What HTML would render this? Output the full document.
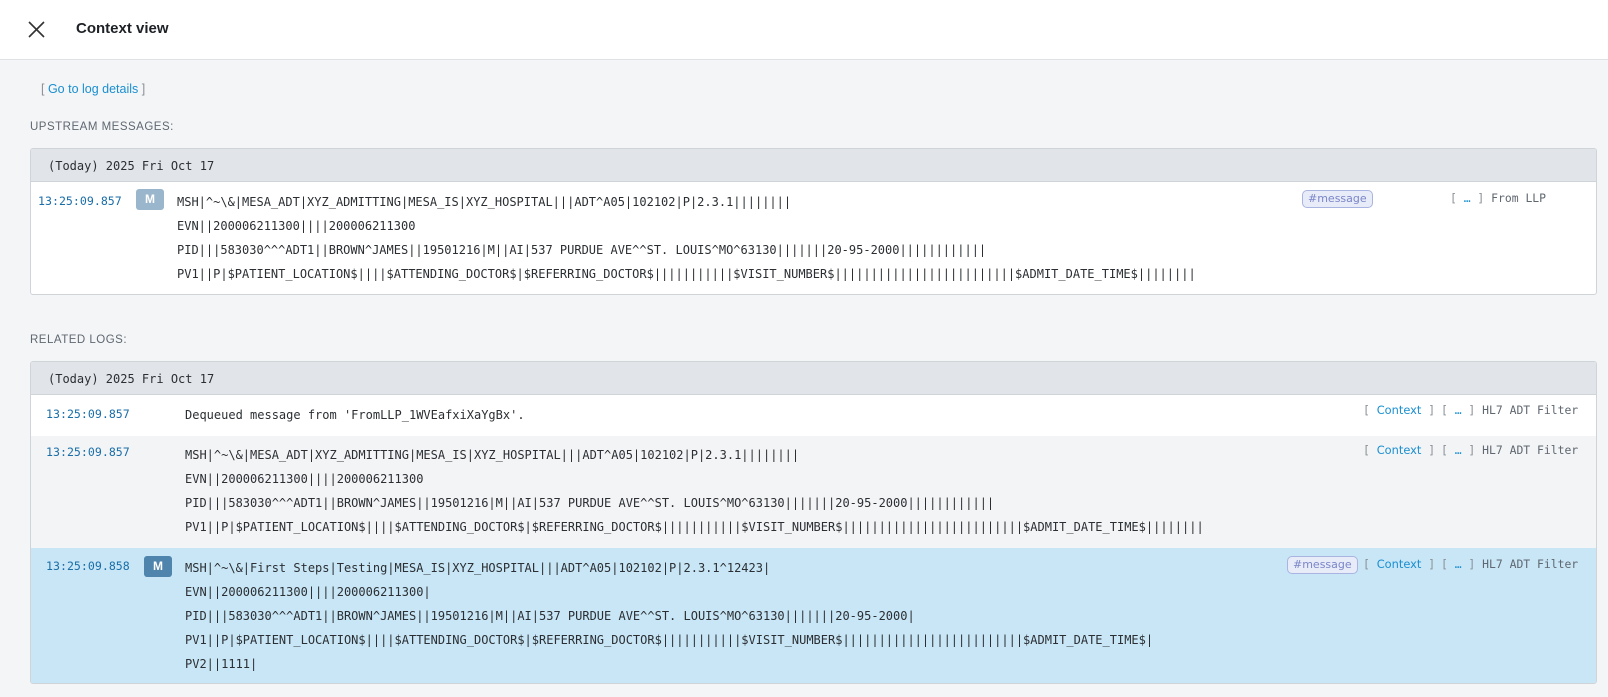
<!DOCTYPE html>
<html><head><meta charset="utf-8"><style>
*{margin:0;padding:0;box-sizing:border-box}
body{width:1608px;height:697px;background:#f4f5f7;font-family:"Liberation Sans",sans-serif;position:relative;overflow:hidden}
.hdr{position:absolute;left:0;top:0;width:1608px;height:60px;background:#fff;border-bottom:1px solid #dfe2e6}
.a{position:absolute;white-space:pre}
.m{font-family:"DejaVu Sans Mono","Liberation Mono",monospace;font-size:12px;color:#2b2f33;line-height:24px}
.r{font-family:"DejaVu Sans Mono","Liberation Mono",monospace;font-size:11.4px;color:#5f6770;line-height:24px}
.t{font-family:"DejaVu Sans Mono","Liberation Mono",monospace;font-size:11.6px;color:#1a6ea8;line-height:24px}
.g{color:#8a9096}
.b{color:#1a8fd0}
.c{font-family:"DejaVu Sans",sans-serif;font-size:11.4px;color:#1a8fd0}
.panel{position:absolute;left:30px;width:1567px;border:1px solid #cfd4d9;border-radius:3px;overflow:hidden}
.ph{position:absolute;left:0;top:0;width:100%;height:33px;background:#e1e5e9;border-bottom:1px solid #cfd4d9}
.lbl{font-size:11.5px;color:#5f6770;letter-spacing:0.5px}
.badge{position:absolute;width:28px;height:21px;border-radius:3px;color:#fff;font-size:12px;font-weight:bold;text-align:center;line-height:21px}
.tag{position:absolute;height:18px;border:1px solid #a9b4e0;border-radius:5px;background:#e8ebf8;color:#7a86c8;font-size:11px;font-family:"DejaVu Sans",sans-serif;line-height:16px;padding:0 5px}
</style></head><body>
<div class="hdr">
<svg style="position:absolute;left:28px;top:21px" width="17" height="17"><path d="M1 1L16 16M16 1L1 16" stroke="#333" stroke-width="1.6"/></svg>
<div class="a" style="left:76px;top:20px;font-size:15px;font-weight:bold;color:#1d2125">Context view</div>
</div>
<div class="a" style="left:41px;top:82px;font-size:12.5px"><span class="g">[ </span><span style="color:#1a8fd0">Go to log details</span><span class="g"> ]</span></div>
<div class="a lbl" style="left:30px;top:121px">UPSTREAM MESSAGES:</div>

<div class="panel" style="top:148px;height:147px;background:#fff">
<div class="ph"></div>
<div class="a m" style="left:17px;top:5px">(Today) 2025 Fri Oct 17</div>
<div class="a t" style="left:7px;top:40px">13:25:09.857</div>
<div class="badge" style="left:105px;top:40px;background:#9ab6cd">M</div>
<div class="a m" style="left:146px;top:41px">MSH|^~\&amp;|MESA_ADT|XYZ_ADMITTING|MESA_IS|XYZ_HOSPITAL|||ADT^A05|102102|P|2.3.1||||||||
EVN||200006211300||||200006211300
PID|||583030^^^ADT1||BROWN^JAMES||19501216|M||AI|537 PURDUE AVE^^ST. LOUIS^MO^63130|||||||20-95-2000||||||||||||
PV1||P|$PATIENT_LOCATION$||||$ATTENDING_DOCTOR$|$REFERRING_DOCTOR$|||||||||||$VISIT_NUMBER$|||||||||||||||||||||||||$ADMIT_DATE_TIME$||||||||</div>
<div class="tag" style="left:1271px;top:41px">#message</div>
<div class="a r" style="left:1419px;top:37px"><span class="g">[ </span><span class="b">…</span><span class="g"> ]</span> From LLP</div>
</div>

<div class="a lbl" style="left:30px;top:334px">RELATED LOGS:</div>

<div class="panel" style="top:361px;height:323px;background:#fff">
<div class="ph"></div>
<div class="a m" style="left:17px;top:5px">(Today) 2025 Fri Oct 17</div>
<div style="position:absolute;left:0;top:74px;width:100%;height:112px;background:#f3f4f6"></div>
<div style="position:absolute;left:0;top:186px;width:100%;height:137px;background:#c8e6f6"></div>
<div class="a t" style="left:15px;top:40px">13:25:09.857</div>
<div class="a m" style="left:154px;top:41px">Dequeued message from 'FromLLP_1WVEafxiXaYgBx'.</div>
<div class="a t" style="left:15px;top:78px">13:25:09.857</div>
<div class="a m" style="left:154px;top:81px">MSH|^~\&amp;|MESA_ADT|XYZ_ADMITTING|MESA_IS|XYZ_HOSPITAL|||ADT^A05|102102|P|2.3.1||||||||
EVN||200006211300||||200006211300
PID|||583030^^^ADT1||BROWN^JAMES||19501216|M||AI|537 PURDUE AVE^^ST. LOUIS^MO^63130|||||||20-95-2000||||||||||||
PV1||P|$PATIENT_LOCATION$||||$ATTENDING_DOCTOR$|$REFERRING_DOCTOR$|||||||||||$VISIT_NUMBER$|||||||||||||||||||||||||$ADMIT_DATE_TIME$||||||||</div>
<div class="a t" style="left:15px;top:192px">13:25:09.858</div>
<div class="badge" style="left:113px;top:194px;background:#4f84ad">M</div>
<div class="a m" style="left:154px;top:194px">MSH|^~\&amp;|First Steps|Testing|MESA_IS|XYZ_HOSPITAL|||ADT^A05|102102|P|2.3.1^12423|
EVN||200006211300||||200006211300|
PID|||583030^^^ADT1||BROWN^JAMES||19501216|M||AI|537 PURDUE AVE^^ST. LOUIS^MO^63130|||||||20-95-2000|
PV1||P|$PATIENT_LOCATION$||||$ATTENDING_DOCTOR$|$REFERRING_DOCTOR$|||||||||||$VISIT_NUMBER$|||||||||||||||||||||||||$ADMIT_DATE_TIME$|
PV2||1111|</div>

<div class="a r" style="left:1332px;top:36px"><span class="g">[ </span><span class="c">Context</span><span class="g"> ]</span></div>
<div class="a r" style="left:1410px;top:36px"><span class="g">[ </span><span class="b">…</span><span class="g"> ]</span> HL7 ADT Filter</div>
<div class="a r" style="left:1332px;top:76px"><span class="g">[ </span><span class="c">Context</span><span class="g"> ]</span></div>
<div class="a r" style="left:1410px;top:76px"><span class="g">[ </span><span class="b">…</span><span class="g"> ]</span> HL7 ADT Filter</div>
<div class="tag" style="left:1256px;top:194px">#message</div>
<div class="a r" style="left:1332px;top:190px"><span class="g">[ </span><span class="c">Context</span><span class="g"> ]</span></div>
<div class="a r" style="left:1410px;top:190px"><span class="g">[ </span><span class="b">…</span><span class="g"> ]</span> HL7 ADT Filter</div>
</div>
</body></html>
